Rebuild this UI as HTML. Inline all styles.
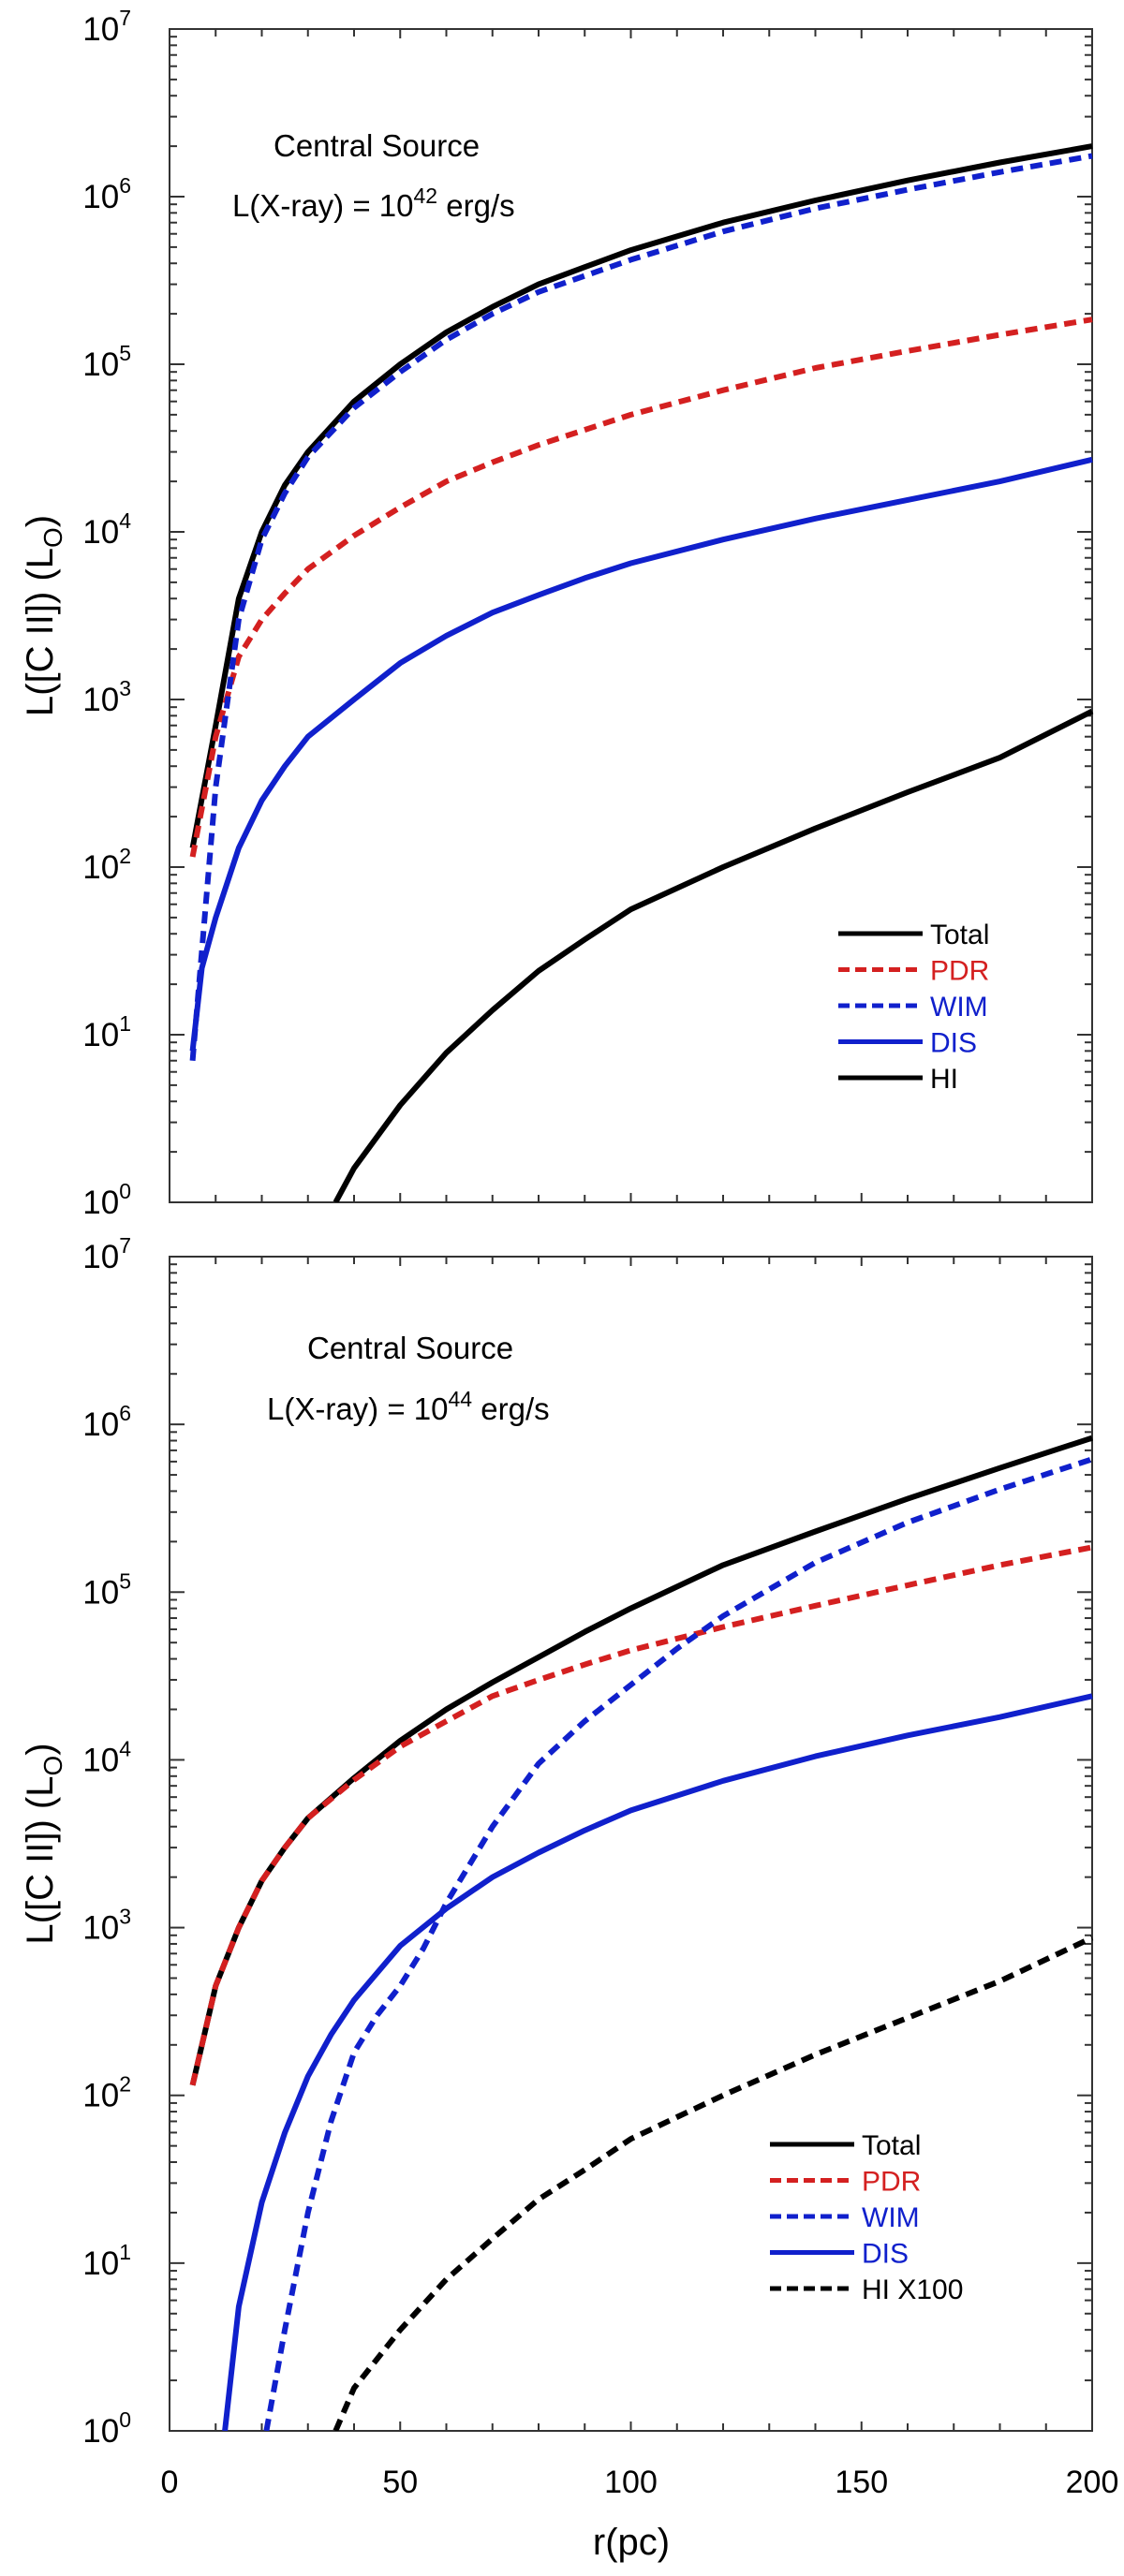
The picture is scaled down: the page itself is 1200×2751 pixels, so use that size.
<!DOCTYPE html>
<html><head><meta charset="utf-8"><style>
html,body{margin:0;padding:0;background:#fff;}
svg{display:block;font-family:"Liberation Sans",sans-serif;}
</style></head><body>
<svg id="chart" width="1200" height="2751" viewBox="0 0 1200 2751" xmlns="http://www.w3.org/2000/svg">
<g id="top"></g>
<g id="bot"></g>
<text x="674" y="2728" font-size="40" text-anchor="middle">r(pc)</text>
</svg>
<script>
const xTicks=[0,50,100,150,200];
const yDecades=[0,1,2,3,4,5,6,7];
// top panel data
const tR_total=[5,10,15,20,25,30,40,50,60,70,80,90,100,120,140,160,180,200];
const tV_total=[130,700,4000,1e4,1.9e4,3e4,6e4,1e5,1.55e5,2.2e5,3e5,3.8e5,4.8e5,7e5,9.5e5,1.25e6,1.6e6,2e6];
const tR_wim=[5,10,15,20,25,30,40,50,60,70,80,100,120,140,160,180,200];
const tV_wim=[7,300,3000,9000,1.7e4,2.8e4,5.5e4,9e4,1.4e5,2e5,2.7e5,4.2e5,6.2e5,8.5e5,1.1e6,1.4e6,1.75e6];
const tR_pdr=[5,10,15,20,25,30,40,50,60,70,80,100,120,140,160,180,200];
const tV_pdr=[115,600,1800,3000,4300,6000,9500,1.4e4,2e4,2.6e4,3.3e4,5e4,7e4,9.5e4,1.2e5,1.5e5,1.85e5];
const tR_dis=[5,7,10,15,20,25,30,40,50,60,70,80,90,100,120,140,160,180,200];
const tV_dis=[8,25,50,130,250,400,600,1000,1650,2400,3300,4200,5300,6500,9000,1.2e4,1.55e4,2e4,2.7e4];
const tR_hi=[36,40,50,60,70,80,90,100,120,140,160,180,200];
const tV_hi=[1,1.6,3.8,7.8,14,24,37,56,100,170,280,450,850];
// bottom panel data
const bR_total=[5,10,15,20,25,30,40,50,60,70,80,90,100,120,140,160,180,200];
const bV_total=[115,450,1000,1900,3000,4500,7800,1.3e4,2e4,2.9e4,4.1e4,5.8e4,8e4,1.45e5,2.3e5,3.6e5,5.5e5,8.3e5];
const bR_pdr=[5,10,15,20,25,30,40,50,60,70,80,90,100,120,140,160,180,200];
const bV_pdr=[115,450,1000,1900,3000,4500,7600,1.2e4,1.7e4,2.4e4,3e4,3.7e4,4.5e4,6.2e4,8.3e4,1.1e5,1.45e5,1.85e5];
const bR_wim=[21,25,30,35,40,45,50,55,60,70,80,90,100,110,120,140,160,180,200];
const bV_wim=[1,4,20,70,180,300,450,750,1400,4000,9500,1.7e4,2.8e4,4.6e4,7.2e4,1.5e5,2.6e5,4.1e5,6.2e5];
const bR_dis=[12,15,20,25,30,35,40,50,60,70,80,90,100,120,140,160,180,200];
const bV_dis=[1,5.5,23,60,130,230,370,780,1300,2000,2800,3800,5000,7500,1.05e4,1.4e4,1.8e4,2.4e4];
const bR_hi=[36,40,50,60,70,80,90,100,120,140,160,180,200];
const bV_hi=[1,1.8,4,8,14,24,36,55,100,175,290,480,870];

const NS='http://www.w3.org/2000/svg';
const X0=181,X1=1166;
function mk(t,a,p){const e=document.createElementNS(NS,t);for(const k in a)e.setAttribute(k,a[k]);p.appendChild(e);return e;}
function panel(g,top,bot,series,legend,ann,expo,showX){
  const dec=(bot-top)/7;
  const sx=r=>X0+(X1-X0)*r/200;
  const sy=v=>bot-dec*Math.log10(v);
  const frame=mk('rect',{x:X0,y:top,width:X1-X0,height:bot-top,fill:'none',stroke:'#333','stroke-width':2},g);
  
  
  for(let r=0;r<=200;r+=10){
    const L=(r%50===0)?10:8;
    mk('line',{x1:sx(r),x2:sx(r),y1:bot,y2:bot-L,stroke:'#333','stroke-width':2},g);
    mk('line',{x1:sx(r),x2:sx(r),y1:top,y2:top+L,stroke:'#333','stroke-width':2},g);
  }
  yDecades.forEach(d=>{
    for(let m=1;m<10;m++){
      if(d===7&&m>1)break;
      const y=sy(m*Math.pow(10,d));const L=m===1?16:8;
      mk('line',{x1:X0,x2:X0+L,y1:y,y2:y,stroke:'#333','stroke-width':2},g);
      mk('line',{x1:X1,x2:X1-L,y1:y,y2:y,stroke:'#333','stroke-width':2},g);
    }
    const t=mk('text',{x:140,y:sy(Math.pow(10,d))+12,'font-size':35,'text-anchor':'end'},g);
    
    
    t.textContent='10';
    const s=mk('tspan',{dy:-16,'font-size':23},t);s.textContent=d;
  });
  if(showX){xTicks.forEach(r=>{
    const t=mk('text',{x:sx(r),y:2662,'font-size':34,'text-anchor':'middle'},g);
    
    
    t.textContent=r;});}
  const yt=mk('text',{transform:`translate(56,${(top+bot)/2}) rotate(-90)`,'font-size':40,'text-anchor':'middle'},g);
  
  
  yt.textContent='L([C II]) (L';
  const sub=mk('tspan',{dy:10,'font-size':28},yt);sub.textContent='O';
  const cl=mk('tspan',{dy:-10},yt);cl.textContent=')';
  const clip='clip'+top;
  const cp=mk('clipPath',{id:clip},g);mk('rect',{x:X0,y:top,width:X1-X0+4,height:bot-top},cp);
  series.forEach(s=>{
    const d=s.r.map((r,i)=>(i?'L':'M')+sx(r).toFixed(1)+','+sy(s.v[i]).toFixed(1)).join('');
    const p=mk('path',{d:d,fill:'none',stroke:s.c,'stroke-width':6,'stroke-linejoin':'round','clip-path':`url(#${clip})`},g);
    if(s.dash)p.setAttribute('stroke-dasharray','13,8');
    
    
  });
  series.forEach((s,i)=>{
    const y=legend.y+i*38.5;
    const l=mk('line',{x1:legend.x,x2:legend.x+90,y1:y,y2:y,stroke:s.c,'stroke-width':5},g);
    if(s.dash)l.setAttribute('stroke-dasharray','12,6');
    
    
    const t=mk('text',{x:legend.x+98,y:y+11,'font-size':30,fill:s.tc},g);
    
    
    t.textContent=s.label;
  });
  const a1=mk('text',{x:ann.x1,y:ann.y1,'font-size':33},g);
  
  
  a1.textContent='Central Source';
  const a2=mk('text',{x:ann.x2,y:ann.y2,'font-size':33},g);
  
  
  a2.textContent='L(X-ray) = 10';
  const e=mk('tspan',{dy:-14,'font-size':23},a2);e.textContent=expo;
  const e2=mk('tspan',{dy:14},a2);e2.textContent=' erg/s';
}
panel(document.getElementById('top'),31,1284,[
 {r:tR_total,v:tV_total,c:'#000',tc:'#000',label:'Total',name:'total-line'},
 {r:tR_pdr,v:tV_pdr,c:'#d42020',tc:'#d42020',dash:1,label:'PDR',name:'pdr-line'},
 {r:tR_wim,v:tV_wim,c:'#1020cc',tc:'#1020cc',dash:1,label:'WIM',name:'wim-line'},
 {r:tR_dis,v:tV_dis,c:'#1020cc',tc:'#1020cc',label:'DIS',name:'dis-line'},
 {r:tR_hi,v:tV_hi,c:'#000',tc:'#000',label:'HI',name:'hi-line'}],
 {x:895,y:997},{x1:292,y1:167,x2:248,y2:231},'42',false);
panel(document.getElementById('bot'),1342,2596,[
 {r:bR_total,v:bV_total,c:'#000',tc:'#000',label:'Total',name:'total-line'},
 {r:bR_pdr,v:bV_pdr,c:'#d42020',tc:'#d42020',dash:1,label:'PDR',name:'pdr-line'},
 {r:bR_wim,v:bV_wim,c:'#1020cc',tc:'#1020cc',dash:1,label:'WIM',name:'wim-line'},
 {r:bR_dis,v:bV_dis,c:'#1020cc',tc:'#1020cc',label:'DIS',name:'dis-line'},
 {r:bR_hi,v:bV_hi,c:'#000',tc:'#000',dash:1,label:'HI X100',name:'hi-x100-line'}],
 {x:822,y:2290},{x1:328,y1:1451,x2:285,y2:1516},'44',true);
</script>
</body></html>
